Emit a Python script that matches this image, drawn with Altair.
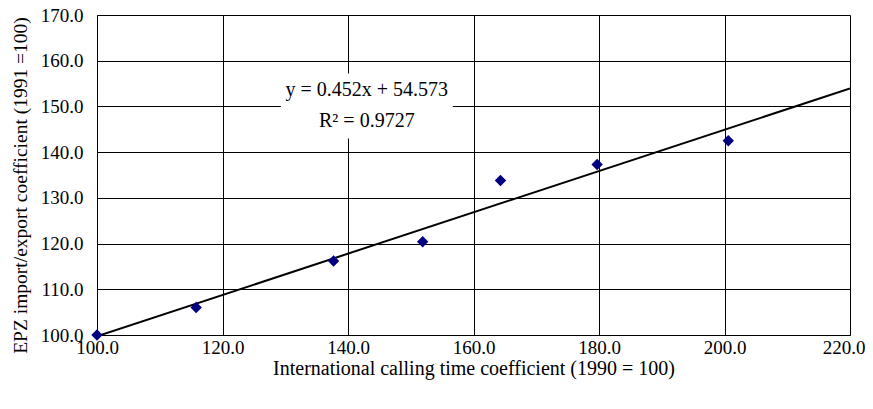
import altair as alt
import pandas as pd

calling = [100.0, 115.8, 137.7, 151.9, 164.3, 179.7, 200.6]
epz = [100.0, 106.0, 116.2, 120.4, 133.8, 137.3, 142.5]
eq_lines = ["y = 0.452x + 54.573", "R² = 0.9727"]

FONT = "Liberation Serif"
df = pd.DataFrame({"x": calling, "y": epz})

xs = alt.Scale(domain=[100, 220], nice=False, zero=False)
ys = alt.Scale(domain=[100, 170], nice=False, zero=False)
xax = alt.Axis(values=list(range(100, 221, 20)), format=".1f", ticks=False,
               labelFont=FONT, labelFontSize=19, labelColor="black", labelPadding=3,
               labelAlign={"condition": {"test": "datum.value >= 220", "value": "right"}, "value": "center"},
               labelOffset={"condition": {"test": "datum.value >= 220", "value": 15}, "value": 0},
               titleFont=FONT, titleFontSize=20, titleFontWeight="normal", titleColor="black",
               titlePadding=1, domainColor="black", gridColor="black", gridWidth=1, gridOpacity=1,
               labelFlush=False)
yax = alt.Axis(values=list(range(100, 171, 10)), format=".1f", ticks=False,
               labelFont=FONT, labelFontSize=19, labelColor="black", labelPadding=14,
               titleFont=FONT, titleFontSize=19.5, titleFontWeight="normal", titleColor="black",
               titlePadding=10, titleY=170, domainColor="black", gridColor="black", gridWidth=1,
               gridOpacity=1, labelFlush=False)

base = alt.Chart(df)
pts = base.mark_point(shape="diamond", filled=True, size=130, color="#000080", opacity=1).encode(
    x=alt.X("x:Q", scale=xs, axis=xax, title="International calling time coefficient (1990 = 100)"),
    y=alt.Y("y:Q", scale=ys, axis=yax, title="EPZ import/export coefficient (1991 =100)"),
)
trend = base.transform_regression("x", "y", extent=[100, 220]).mark_line(
    color="black", strokeWidth=2, clip=True
).encode(x=alt.X("x:Q", scale=xs), y=alt.Y("y:Q", scale=ys))

box_df = pd.DataFrame({"x": [129.3], "x2": [156.7], "y": [143.0], "y2": [157.2]})
box = alt.Chart(box_df).mark_rect(color="white").encode(
    x=alt.X("x:Q", scale=xs), x2="x2:Q", y=alt.Y("y:Q", scale=ys), y2="y2:Q")

txt_df = pd.DataFrame({"x": [143.0, 143.0], "y": [153.7, 146.8], "t": eq_lines})
txt = alt.Chart(txt_df).mark_text(font=FONT, fontSize=20, color="black", align="center",
                                  baseline="middle").encode(
    x=alt.X("x:Q", scale=xs), y=alt.Y("y:Q", scale=ys), text="t:N")

chart = alt.layer(box, trend, pts, txt).properties(
    width=753, height=320,
    autosize=alt.AutoSizeParams(type="none"),
    padding={"left": 89, "top": 7, "right": 15, "bottom": 66},
).configure_view(fill="#C0C0C0", stroke="#808080", strokeWidth=1).configure(background="white")

chart.save("out.html", embed_options={"renderer": "svg", "actions": False})
